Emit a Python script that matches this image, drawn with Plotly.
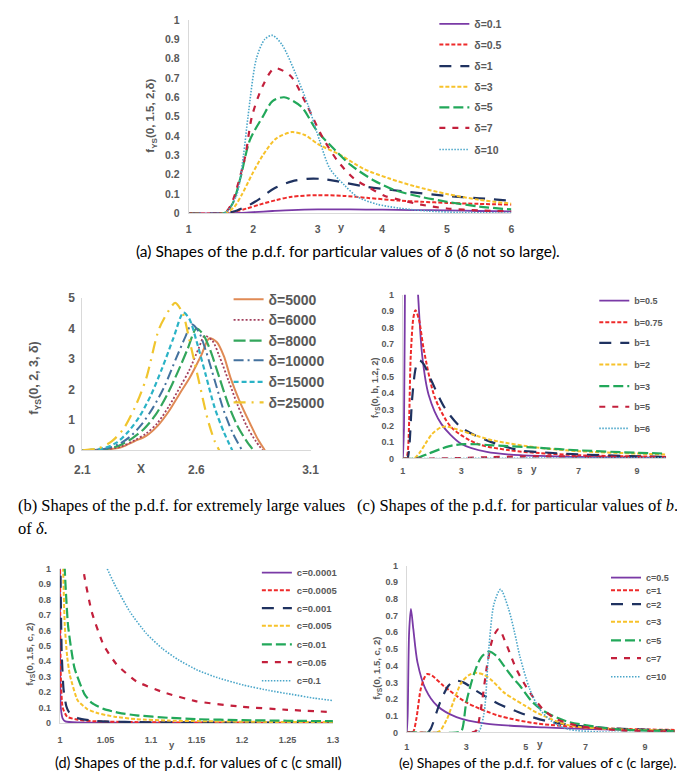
import plotly.graph_objects as go

W, H = 685, 771

# ------------------------------------------------------------------ DATA
# (a) delta not so large
a_labels = ["δ=0.1", "δ=0.5", "δ=1", "δ=3", "δ=5", "δ=7", "δ=10"]
a_x1 = [1, 1.5, 1.8, 2.0, 2.3, 2.6, 3.0, 3.5, 4.0, 4.5, 5.0, 5.5, 6.0]
a_y1 = [0, 0, 0.002, 0.006, 0.012, 0.017, 0.02, 0.02, 0.019, 0.017, 0.015, 0.012, 0.01]
a_x2 = [1, 1.5, 1.7, 1.9, 2.1, 2.35, 2.6, 3.0, 3.4, 3.76, 4.26, 4.6, 5.0, 5.5, 6.0]
a_y2 = [0, 0, 0.008, 0.025, 0.045, 0.068, 0.086, 0.094, 0.09, 0.08, 0.066, 0.06, 0.054, 0.049, 0.045]
a_x3 = [1, 1.55, 1.75, 1.95, 2.1, 2.33, 2.6, 2.83, 3.05, 3.31, 3.76, 4.3, 5.0, 5.5, 6.0]
a_y3 = [0, 0, 0.015, 0.045, 0.075, 0.13, 0.165, 0.178, 0.178, 0.165, 0.137, 0.115, 0.09, 0.078, 0.065]
a_x4 = [1, 1.55, 1.7, 1.83, 1.98, 2.15, 2.35, 2.6, 2.8, 3.01, 3.36, 3.71, 4.11, 4.5, 5.0, 5.5, 6.0]
a_y4 = [0, 0, 0.03, 0.1, 0.2, 0.3, 0.385, 0.42, 0.405, 0.357, 0.3, 0.23, 0.18, 0.14, 0.1, 0.07, 0.05]
a_x5 = [1, 1.55, 1.68, 1.8, 1.95, 2.15, 2.3, 2.48, 2.75, 2.98, 3.26, 3.51, 3.87, 4.19, 4.6, 5.0, 5.5, 6.0]
a_y5 = [0, 0, 0.05, 0.18, 0.38, 0.5, 0.58, 0.6, 0.55, 0.43, 0.33, 0.25, 0.17, 0.12, 0.085, 0.06, 0.035, 0.02]
a_x6 = [1, 1.55, 1.65, 1.72, 1.88, 1.98, 2.15, 2.33, 2.58, 2.83, 3.08, 3.31, 3.56, 3.81, 4.04, 4.27, 4.6, 5.0, 5.5, 6.0]
a_y6 = [0, 0, 0.04, 0.1, 0.3, 0.5, 0.66, 0.75, 0.71, 0.56, 0.39, 0.27, 0.18, 0.13, 0.09, 0.07, 0.045, 0.025, 0.015, 0.01]
a_x7 = [1, 1.55, 1.62, 1.75, 1.85, 1.92, 2.05, 2.18, 2.3, 2.45, 2.66, 2.86, 3.03, 3.19, 3.41, 3.61, 3.92, 4.26, 4.7, 5.2, 6.0]
a_y7 = [0, 0, 0.02, 0.1, 0.3, 0.5, 0.8, 0.9, 0.92, 0.87, 0.72, 0.55, 0.375, 0.23, 0.147, 0.086, 0.047, 0.027, 0.012, 0.005, 0.001]
a_xticks = [1, 2, 3, 4, 5, 6]
a_yticks = [0, 0.1, 0.2, 0.3, 0.4, 0.5, 0.6, 0.7, 0.8, 0.9, 1]
a_yticktext = ["0", "0.1", "0.2", "0.3", "0.4", "0.5", "0.6", "0.7", "0.8", "0.9", "1"]

# (b) extremely large delta
b_labels = ["δ=5000", "δ=6000", "δ=8000", "δ=10000", "δ=15000", "δ=25000"]
b_x1 = [2.1, 2.2, 2.27, 2.33, 2.38, 2.43, 2.48, 2.53, 2.57, 2.62, 2.657, 2.69, 2.72, 2.75, 2.79, 2.835, 2.87, 2.9]
b_y1 = [0, 0.02, 0.1, 0.3, 0.47, 0.8, 1.29, 1.9, 2.37, 3.1, 3.68, 3.55, 3.1, 2.37, 1.6, 0.88, 0.35, 0]
b_x2 = [2.1, 2.2, 2.27, 2.33, 2.38, 2.43, 2.48, 2.53, 2.57, 2.61, 2.636, 2.67, 2.7, 2.74, 2.78, 2.82, 2.86, 2.89]
b_y2 = [0, 0.03, 0.12, 0.33, 0.55, 0.9, 1.45, 2.1, 2.65, 3.35, 3.76, 3.6, 3.1, 2.3, 1.5, 0.8, 0.3, 0]
b_x3 = [2.1, 2.2, 2.26, 2.32, 2.37, 2.42, 2.47, 2.52, 2.56, 2.6, 2.63, 2.66, 2.7, 2.74, 2.78, 2.82, 2.85]
b_y3 = [0, 0.04, 0.15, 0.4, 0.7, 1.15, 1.8, 2.6, 3.3, 4.0, 3.8, 3.3, 2.4, 1.5, 0.8, 0.3, 0]
b_x4 = [2.1, 2.2, 2.26, 2.31, 2.36, 2.41, 2.46, 2.51, 2.55, 2.579, 2.61, 2.64, 2.68, 2.72, 2.76, 2.8]
b_y4 = [0, 0.05, 0.2, 0.45, 0.85, 1.4, 2.1, 3.0, 3.7, 4.14, 3.9, 3.3, 2.3, 1.3, 0.55, 0]
b_x5 = [2.1, 2.19, 2.25, 2.3, 2.35, 2.4, 2.45, 2.5, 2.543, 2.57, 2.6, 2.64, 2.68, 2.72, 2.757]
b_y5 = [0, 0.06, 0.25, 0.6, 1.1, 1.8, 2.7, 3.7, 4.52, 4.3, 3.6, 2.5, 1.4, 0.6, 0]
b_x6 = [2.1, 2.17, 2.23, 2.28, 2.33, 2.38, 2.436, 2.48, 2.507, 2.54, 2.57, 2.61, 2.65, 2.68, 2.7]
b_y6 = [0, 0.06, 0.3, 0.7, 1.4, 2.36, 3.98, 4.6, 4.84, 4.5, 3.6, 2.3, 1.0, 0.3, 0]
b_xticks = [2.1, 2.6, 3.1]
b_yticks = [0, 1, 2, 3, 4, 5]

# (c) particular values of b
c_labels = ["b=0.5", "b=0.75", "b=1", "b=2", "b=3", "b=5", "b=6"]
c_x1 = [1.0, 1.04, 1.08, 1.15, 1.25, 1.35, 1.45, 1.52, 1.66, 1.88, 2.32, 2.99, 3.87, 5.0, 7.0, 10.0]
c_y1 = [0, 0.2, 1.3, 2.4, 2.5, 1.8, 1.2, 1.0, 0.63, 0.39, 0.21, 0.09, 0.04, 0.02, 0.01, 0.005]
c_x2 = [1.0, 1.1, 1.16, 1.27, 1.36, 1.43, 1.55, 1.71, 2.1, 2.66, 3.54, 4.66, 5.66, 7.0, 8.5, 10.0]
c_y2 = [0, 0, 0.03, 0.63, 0.86, 0.906, 0.85, 0.67, 0.37, 0.19, 0.09, 0.05, 0.033, 0.02, 0.014, 0.01]
c_x3 = [1.0, 1.15, 1.21, 1.32, 1.45, 1.57, 1.7, 1.99, 2.43, 2.99, 3.88, 4.99, 5.6, 7.0, 8.5, 10.0]
c_y3 = [0, 0, 0.05, 0.37, 0.56, 0.6, 0.58, 0.47, 0.31, 0.19, 0.11, 0.05, 0.04, 0.025, 0.016, 0.01]
c_x4 = [1.0, 1.38, 1.55, 1.77, 2.0, 2.3, 2.5, 2.99, 3.5, 4.1, 5.66, 7.0, 9.0, 10.0]
c_y4 = [0, 0, 0.03, 0.09, 0.15, 0.19, 0.195, 0.17, 0.14, 0.11, 0.065, 0.045, 0.03, 0.025]
c_x5 = [1.0, 1.43, 1.88, 2.32, 2.7, 3.1, 3.5, 4.1, 5.66, 7.0, 9.0, 10.0]
c_y5 = [0, 0, 0.03, 0.06, 0.08, 0.088, 0.087, 0.08, 0.065, 0.05, 0.035, 0.03]
c_x6 = [1.0, 2.0, 3.0, 4.0, 5.0, 6.0, 7.0, 8.0, 9.0, 10.0]
c_y6 = [0, 0, 0.003, 0.008, 0.012, 0.013, 0.012, 0.011, 0.01, 0.009]
c_x7 = [1, 2, 4, 6, 8, 10]
c_y7 = [0, 0, 0.001, 0.003, 0.004, 0.004]
c_xticks = [1, 3, 5, 7, 9]
c_yticks = [0, 0.1, 0.2, 0.3, 0.4, 0.5, 0.6, 0.7, 0.8, 0.9, 1]
c_yticktext = ["0", "0.1", "0.2", "0.3", "0.4", "0.5", "0.6", "0.7", "0.8", "0.9", "1"]

# (d) c small
d_labels = ["c=0.0001", "c=0.0005", "c=0.001", "c=0.005", "c=0.01", "c=0.05", "c=0.1"]
d_x1 = [1.0, 1.0002, 1.0005, 1.001, 1.003, 1.006, 1.02, 1.1, 1.3]
d_y1 = [1.5, 0.5, 0.2, 0.1, 0.03, 0.01, 0.003, 0.001, 0]
d_x2 = [1.0, 1.0005, 1.001, 1.003, 1.008, 1.02, 1.04, 1.1, 1.3]
d_y2 = [1.5, 0.6, 0.3, 0.1, 0.04, 0.02, 0.01, 0.004, 0.001]
d_x3 = [1.0, 1.0005, 1.001, 1.002, 1.004, 1.007, 1.01, 1.02, 1.04, 1.1, 1.3]
d_y3 = [1.5, 1.1, 0.8, 0.45, 0.22, 0.11, 0.07, 0.03, 0.012, 0.004, 0.001]
d_x4 = [1.0025, 1.0036, 1.0054, 1.008, 1.011, 1.0196, 1.03, 1.041, 1.06, 1.084, 1.12, 1.18, 1.24, 1.3]
d_y4 = [1.2, 0.99, 0.63, 0.43, 0.31, 0.145, 0.09, 0.064, 0.04, 0.024, 0.015, 0.009, 0.006, 0.005]
d_x5 = [1.0045, 1.0054, 1.009, 1.016, 1.027, 1.035, 1.048, 1.065, 1.084, 1.12, 1.152, 1.2, 1.25, 1.3]
d_y5 = [1.2, 0.99, 0.63, 0.357, 0.187, 0.13, 0.091, 0.065, 0.049, 0.033, 0.024, 0.018, 0.014, 0.011]
d_x6 = [1.025, 1.027, 1.035, 1.048, 1.0625, 1.084, 1.113, 1.15, 1.2, 1.25, 1.3]
d_y6 = [1.05, 0.95, 0.72, 0.505, 0.378, 0.27, 0.2, 0.14, 0.105, 0.085, 0.07]
d_x7 = [1.052, 1.06, 1.077, 1.095, 1.113, 1.13, 1.152, 1.175, 1.202, 1.23, 1.255, 1.28, 1.3]
d_y7 = [1.0, 0.9, 0.72, 0.58, 0.48, 0.41, 0.34, 0.29, 0.245, 0.21, 0.185, 0.16, 0.145]
d_xticks = [1, 1.05, 1.1, 1.15, 1.2, 1.25, 1.3]
d_xticktext = ["1", "1.05", "1.1", "1.15", "1.2", "1.25", "1.3"]
d_yticks = [0, 0.1, 0.2, 0.3, 0.4, 0.5, 0.6, 0.7, 0.8, 0.9, 1]
d_yticktext = ["0", "0.1", "0.2", "0.3", "0.4", "0.5", "0.6", "0.7", "0.8", "0.9", "1"]

# (e) c large
e_labels = ["c=0.5", "c=1", "c=2", "c=3", "c=5", "c=7", "c=10"]
e_x1 = [1.0, 1.03, 1.08, 1.14, 1.22, 1.36, 1.63, 2.02, 2.67, 3.66, 5.62, 7.5, 10.0]
e_y1 = [0, 0.1, 0.6, 0.74, 0.62, 0.42, 0.26, 0.16, 0.092, 0.053, 0.03, 0.018, 0.01]
e_x2 = [1.0, 1.2, 1.32, 1.47, 1.6, 1.69, 1.85, 2.23, 3.0, 4.09, 5.4, 7.0, 8.5, 10.0]
e_y2 = [0, 0, 0.08, 0.26, 0.33, 0.35, 0.34, 0.28, 0.18, 0.1, 0.053, 0.03, 0.02, 0.015]
e_x3 = [1.0, 1.7, 1.8, 2.12, 2.4, 2.62, 2.9, 3.33, 4.09, 4.64, 5.0, 5.68, 7.0, 8.5, 10.0]
e_y3 = [0, 0, 0.02, 0.18, 0.28, 0.31, 0.3, 0.25, 0.17, 0.13, 0.105, 0.069, 0.035, 0.02, 0.012]
e_x4 = [1.0, 2.0, 2.12, 2.35, 2.56, 2.84, 3.1, 3.33, 3.6, 3.87, 4.26, 4.6, 4.97, 5.35, 6.44, 8.0, 10.0]
e_y4 = [0, 0, 0.01, 0.08, 0.18, 0.3, 0.345, 0.357, 0.345, 0.31, 0.24, 0.2, 0.16, 0.12, 0.043, 0.02, 0.01]
e_x5 = [1.0, 2.7, 2.84, 3.0, 3.27, 3.5, 3.76, 4.0, 4.26, 4.55, 4.8, 5.18, 5.5, 5.9, 6.44, 8.0, 10.0]
e_y5 = [0, 0, 0.01, 0.18, 0.357, 0.45, 0.485, 0.46, 0.4, 0.33, 0.28, 0.19, 0.14, 0.1, 0.063, 0.02, 0.008]
e_x6 = [1.0, 3.2, 3.33, 3.49, 3.71, 3.9, 4.09, 4.36, 4.69, 5.13, 5.57, 6.0, 6.76, 8.0, 10.0]
e_y6 = [0, 0, 0.01, 0.14, 0.415, 0.57, 0.62, 0.52, 0.376, 0.24, 0.14, 0.082, 0.04, 0.015, 0.005]
e_x7 = [1.0, 3.35, 3.44, 3.6, 3.76, 3.93, 4.15, 4.42, 4.62, 4.8, 5.13, 5.46, 5.9, 6.4, 7.5, 10.0]
e_y7 = [0, 0, 0.01, 0.12, 0.51, 0.77, 0.857, 0.74, 0.6, 0.455, 0.26, 0.14, 0.063, 0.02, 0.003, 0]
e_xticks = [1, 3, 5, 7, 9]
e_yticks = [0, 0.1, 0.2, 0.3, 0.4, 0.5, 0.6, 0.7, 0.8, 0.9, 1]
e_yticktext = ["0", "0.1", "0.2", "0.3", "0.4", "0.5", "0.6", "0.7", "0.8", "0.9", "1"]

# ------------------------------------------------------------------ STYLE
PURPLE, RED, NAVY, YELLOW, GREEN, DRED, BLUE = (
    "#7a3aa6", "#ee2a2a", "#1f3260", "#f7c22a", "#22a85a", "#c3203c", "#4aa6c9")
GRAY = "#595959"
FONT = "Liberation Sans"

def PX(p):
    return p / W

def PY(p):
    return 1 - p / H

seven = [
    dict(color=PURPLE, width=1.8, dash="solid"),
    dict(color=RED, width=2, dash="4px,2px"),
    dict(color=NAVY, width=2.2, dash="12px,9px"),
    dict(color=YELLOW, width=2, dash="4px,2px"),
    dict(color=GREEN, width=2.2, dash="10px,4px"),
    dict(color=DRED, width=2.2, dash="6px,7px"),
    dict(color=BLUE, width=1.6, dash="1.5px,1.5px"),
]
b_styles = [
    dict(color="#e08a55", width=2, dash="solid"),
    dict(color="#a3405e", width=1.8, dash="2px,2px"),
    dict(color="#33a65c", width=2.2, dash="12px,4px"),
    dict(color="#44729e", width=2, dash="10px,4px,2px,4px"),
    dict(color="#2bb3c6", width=2.2, dash="5px,3px"),
    dict(color="#f0c52e", width=2.2, dash="12px,6px,2px,6px"),
]

fig = go.Figure()
legend_layouts = {}
counter = [0]

def add_panel(xaxis, yaxis, xs, ys, labels, styles, leg_text_x, leg_ys, leg_size, smoothing=0.8):
    for x, y, lab, st, ly in zip(xs, ys, labels, styles, leg_ys):
        counter[0] += 1
        lid = "legend" if counter[0] == 1 else "legend%d" % counter[0]
        fig.add_trace(go.Scatter(
            x=x, y=y, name=lab, mode="lines", xaxis=xaxis, yaxis=yaxis,
            line=dict(color=st["color"], width=st["width"], dash=st["dash"],
                      shape="spline", smoothing=smoothing),
            legend=lid, showlegend=True, hoverinfo="skip"))
        legend_layouts[lid] = dict(
            x=PX(leg_text_x - 40), y=PY(ly), xanchor="left", yanchor="middle",
            bgcolor="rgba(0,0,0,0)", borderwidth=0,
            font=dict(family=FONT, size=leg_size, color=GRAY, weight="bold"))

add_panel("x", "y", [a_x1, a_x2, a_x3, a_x4, a_x5, a_x6, a_x7],
          [a_y1, a_y2, a_y3, a_y4, a_y5, a_y6, a_y7], a_labels, seven,
          469, [9, 30, 52, 73, 94, 115, 137], 10.5)
add_panel("x2", "y2", [b_x1, b_x2, b_x3, b_x4, b_x5, b_x6],
          [b_y1, b_y2, b_y3, b_y4, b_y5, b_y6], b_labels, b_styles,
          258, [290, 311, 332, 352, 374, 395], 14)
add_panel("x3", "y3", [c_x1, c_x2, c_x3, c_x4, c_x5, c_x6, c_x7],
          [c_y1, c_y2, c_y3, c_y4, c_y5, c_y6, c_y7], c_labels, seven,
          633, [291, 313, 334, 356, 378, 399, 421], 9)
add_panel("x4", "y4", [d_x1, d_x2, d_x3, d_x4, d_x5, d_x6, d_x7],
          [d_y1, d_y2, d_y3, d_y4, d_y5, d_y6, d_y7], d_labels, seven,
          287, [568, 586, 604, 622, 641, 659, 678], 9.5, smoothing=0.5)
add_panel("x5", "y5", [e_x1, e_x2, e_x3, e_x4, e_x5, e_x6, e_x7],
          [e_y1, e_y2, e_y3, e_y4, e_y5, e_y6, e_y7], e_labels, seven,
          645, [573, 586, 600, 618, 637, 655, 674], 9)

def xax(dom, rng, tickvals, ticktext, size, standoff):
    return dict(domain=[PX(dom[0]), PX(dom[1])], range=rng, tickmode="array",
                tickvals=tickvals, ticktext=ticktext, showgrid=False, zeroline=False,
                showline=True, linecolor="#d9d9d9", linewidth=1, ticks="",
                ticklabelstandoff=standoff,
                tickfont=dict(family=FONT, size=size, color=GRAY, weight="bold"))

def yax(dom, rng, tickvals, ticktext, size, standoff, anchor):
    d = xax((0, 0), rng, tickvals, ticktext, size, standoff)
    d["domain"] = [PY(dom[0]), PY(dom[1])]
    d["anchor"] = anchor
    return d

layout = dict(
    width=W, height=H, margin=dict(l=0, r=0, t=0, b=0),
    paper_bgcolor="white", plot_bgcolor="white", showlegend=True,
    xaxis=xax((177, 508), [1, 6], a_xticks, [str(v) for v in a_xticks], 10.5, 6),
    yaxis=yax((202, 5), [0, 1], a_yticks, a_yticktext, 10.5, 6, "x"),
    xaxis2=xax((68, 302), [2.1, 3.1], b_xticks, [str(v) for v in b_xticks], 12, 8),
    yaxis2=yax((443.3, 288.3), [0, 5], b_yticks, [str(v) for v in b_yticks], 12, 4, "x2"),
    xaxis3=xax((396.7, 666.7), [1, 10], c_xticks, [str(v) for v in c_xticks], 9, 4),
    yaxis3=yax((451.7, 285), [0, 1], c_yticks, c_yticktext, 9, 6, "x3"),
    xaxis4=xax((45, 325), [1, 1.3], d_xticks, d_xticktext, 9, 8),
    yaxis4=yax((721, 564), [0, 1], d_yticks, d_yticktext, 9, 6, "x4"),
    xaxis5=xax((400.7, 675.5), [1, 10], e_xticks, [str(v) for v in e_xticks], 9, 6),
    yaxis5=yax((730.7, 560.7), [0, 1], e_yticks, e_yticktext, 9, 6, "x5"),
)
layout["xaxis"]["anchor"] = "y"
layout["xaxis2"]["anchor"] = "y2"
layout["xaxis3"]["anchor"] = "y3"
layout["xaxis4"]["anchor"] = "y4"
layout["xaxis5"]["anchor"] = "y5"
layout.update(legend_layouts)
fig.update_layout(**layout)

def ann(text, x, y, size, family=FONT, bold=True, angle=0, color=GRAY, xanchor="center"):
    fig.add_annotation(text=text, x=PX(x), y=PY(y), xref="paper", yref="paper",
                       showarrow=False, textangle=angle, xanchor=xanchor, yanchor="middle",
                       font=dict(family=family, size=size, color=color,
                                 weight="bold" if bold else "normal"))

# axis titles
ann("f<sub>YS</sub>(0, 1.5, 2,δ)", 139, 103, 11.5, angle=-90)
ann("y", 334, 216, 11)
ann("f<sub>YS</sub>(0, 2, 3, δ)", 20, 370, 12.5, angle=-90)
ann("X", 128, 462, 12)
ann("f<sub>YS</sub>(0, b, 1.2, 2)", 368, 380, 9, angle=-90)
ann("y", 531, 463, 10)
ann("f<sub>YS</sub>(0, 1.5, c, 2)", 15, 651, 9.5, angle=-90)
ann("y", 160, 743, 9.5)
ann("f<sub>YS</sub>(0, 1.5, c, 2)", 370, 665, 9.5, angle=-90)
ann("y", 537, 743, 10)

# captions
CAP = "Lato"
SER = "Liberation Serif"
ann("(a) Shapes of the p.d.f. for particular values of <i>δ</i> (<i>δ</i> not so large).",
    340, 240, 15.5, family=CAP, bold=False, color="black")
ann("(b) Shapes of the p.d.f. for extremely large values", 0, 500, 16.5, family=SER,
    bold=False, color="black", xanchor="left")
ann("of <i>δ</i>.", 0, 523, 16.5, family=SER, bold=False, color="black", xanchor="left")
ann("(c) Shapes of the p.d.f. for particular values of <i>b</i>.", 348, 500, 16.5,
    family=SER, bold=False, color="black", xanchor="left")
ann("(d) Shapes of the p.d.f. for values of c (c small)", 38, 761, 14.5, family=CAP,
    bold=False, color="black", xanchor="left")
ann("(e) Shapes of the p.d.f. for values of c (c large).", 391, 761, 14, family=CAP,
    bold=False, color="black", xanchor="left")

fig.write_html("out.html")
